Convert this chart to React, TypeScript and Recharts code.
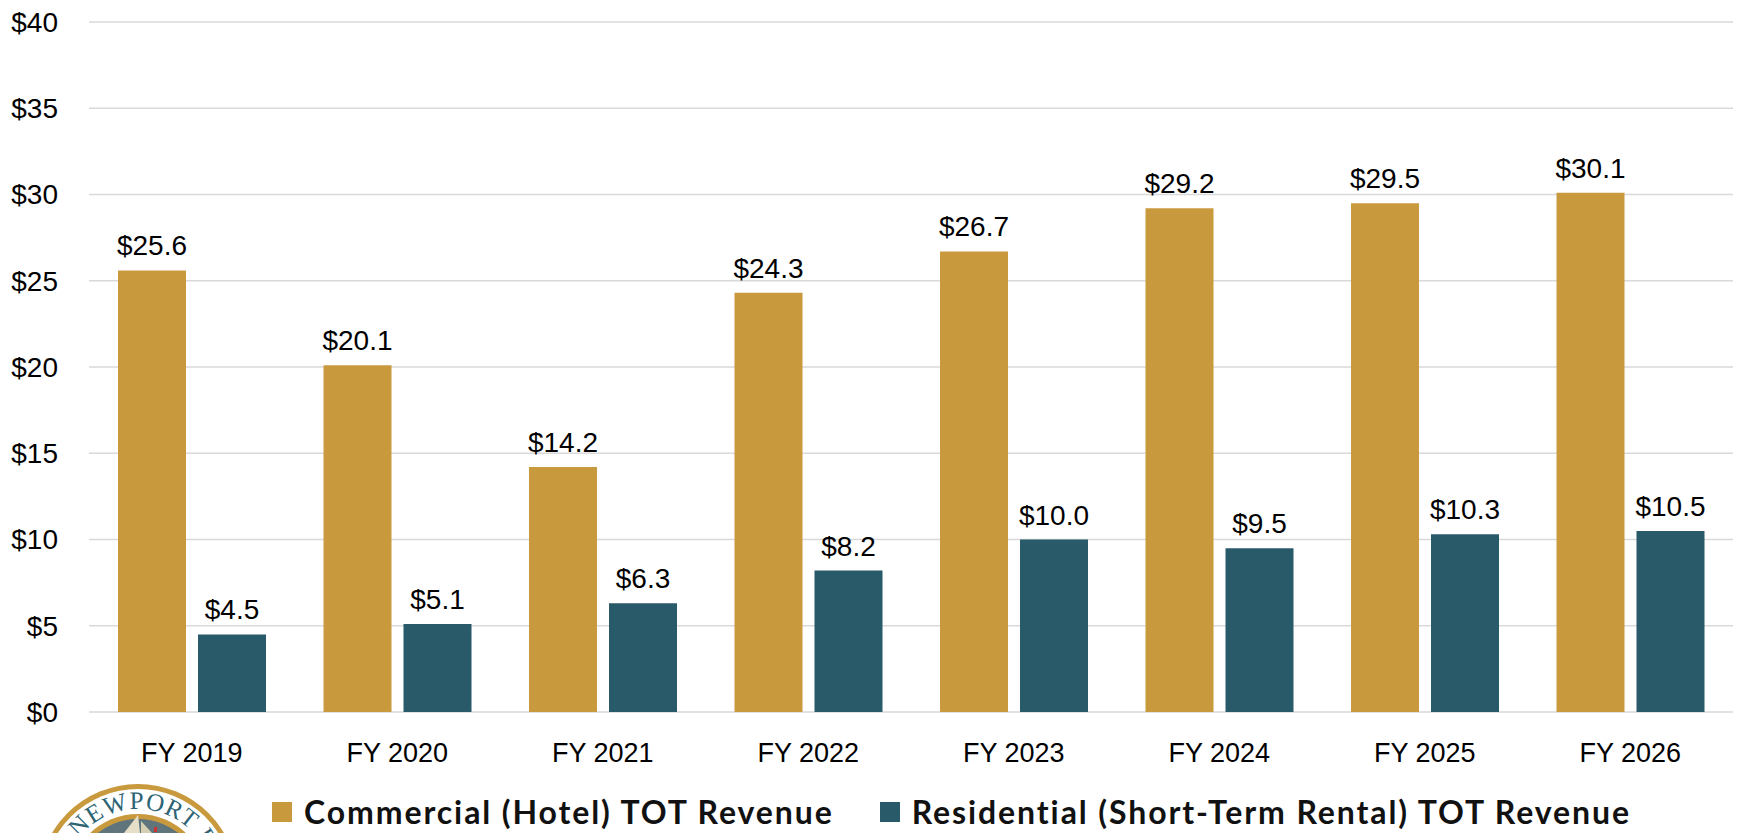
import React from "react";
import { BarChart, Bar, XAxis, YAxis, CartesianGrid, LabelList } from "recharts";

// ─── Data (USD millions) ─────────────────────────────────────────────────────

const years = ["FY 2019", "FY 2020", "FY 2021", "FY 2022", "FY 2023", "FY 2024", "FY 2025", "FY 2026"];
const commercial = [25.6, 20.1, 14.2, 24.3, 26.7, 29.2, 29.5, 30.1];
const residential = [4.5, 5.1, 6.3, 8.2, 10.0, 9.5, 10.3, 10.5];
const yTicks = [0, 5, 10, 15, 20, 25, 30, 35, 40];

const series = [
  { key: "commercial", name: "Commercial (Hotel) TOT Revenue", color: "#C9993E" },
  { key: "residential", name: "Residential (Short-Term Rental) TOT Revenue", color: "#285A6A" },
];

const data = years.map((year, i) => ({
  year,
  commercial: commercial[i],
  residential: residential[i],
}));

const AXIS_FONT = "'Liberation Sans', Arial, sans-serif";

// ─── City seal (partial, cut off at bottom edge) ─────────────────────────────

function Seal() {
  return (
    <svg width={260} height={60} style={{ position: "absolute", left: 0, top: 773 }}>
      <defs>
        <path id="sealArc" d="M 63 111 A 75 75 0 0 1 213 111" />
      </defs>
      <circle cx={138} cy={111} r={100} fill="#C9993E" />
      <circle cx={138} cy={111} r={95} fill="#fff" />
      <circle cx={138} cy={111} r={70} fill="#C9993E" />
      <circle cx={138} cy={111} r={65} fill="#5f757b" />
      <polygon points="138,42 124,60 140,60" fill="#e6dfc8" />
      <polygon points="141,48 141,60 152,60" fill="#d6cfb4" />
      <rect x={154} y={54} width={3} height={5} fill="#c33" />
      <text fontFamily="'Liberation Serif', serif" fontSize={25} fill="#2d6474" letterSpacing={1}>
        <textPath href="#sealArc" startOffset="45%" textAnchor="middle">
          CITY OF NEWPORT BEACH
        </textPath>
      </text>
    </svg>
  );
}

// ─── Legend (outside the chart so it doesn't shrink the plot) ────────────────

function ChartLegend() {
  return (
    <div
      style={{
        position: "absolute",
        left: 272,
        top: 796,
        display: "flex",
        alignItems: "center",
        fontFamily: "Lato, 'Open Sans', sans-serif",
        fontWeight: 700,
        fontSize: 32,
        lineHeight: "32px",
        letterSpacing: 1.9,
        color: "#111",
        whiteSpace: "nowrap",
      }}
    >
      {series.map((s, i) => (
        <div key={s.key} style={{ display: "flex", alignItems: "center", marginLeft: i ? 46 : 0 }}>
          <span style={{ display: "inline-block", width: 20, height: 20, background: s.color, marginRight: 12 }} />
          <span>{s.name}</span>
        </div>
      ))}
    </div>
  );
}

export default function App() {
  return (
    <div
      style={{
        position: "absolute",
        left: 0,
        top: 0,
        width: 1737,
        height: 833,
        overflow: "hidden",
        background: "#fff",
      }}
    >
      <BarChart
        width={1737}
        height={833}
        data={data}
        margin={{ top: 22, right: 4, left: 0, bottom: 0 }}
        barSize={68}
        barGap={12}
      >
        <CartesianGrid vertical={false} stroke="#D9D9D9" strokeWidth={1.5} />
        <XAxis
          dataKey="year"
          height={121}
          axisLine={false}
          tickLine={false}
          tickSize={0}
          tickMargin={31}
          tick={{ fill: "#000", fontSize: 27, fontFamily: AXIS_FONT }}
        />
        <YAxis
          width={89}
          domain={[0, 40]}
          ticks={yTicks}
          interval={0}
          axisLine={false}
          tickLine={false}
          tickSize={0}
          tickMargin={31}
          tickFormatter={(v) => `$${v}`}
          tick={{ fill: "#000", fontSize: 28, fontFamily: AXIS_FONT }}
        />
        {series.map((s) => (
          <Bar key={s.key} dataKey={s.key} name={s.name} fill={s.color} isAnimationActive={false}>
            <LabelList
              dataKey={s.key}
              position="top"
              offset={15}
              formatter={(v: any) => `$${Number(v).toFixed(1)}`}
              style={{ fill: "#000", fontSize: 28, fontFamily: AXIS_FONT }}
            />
          </Bar>
        ))}
      </BarChart>
      <ChartLegend />
      <Seal />
    </div>
  );
}
